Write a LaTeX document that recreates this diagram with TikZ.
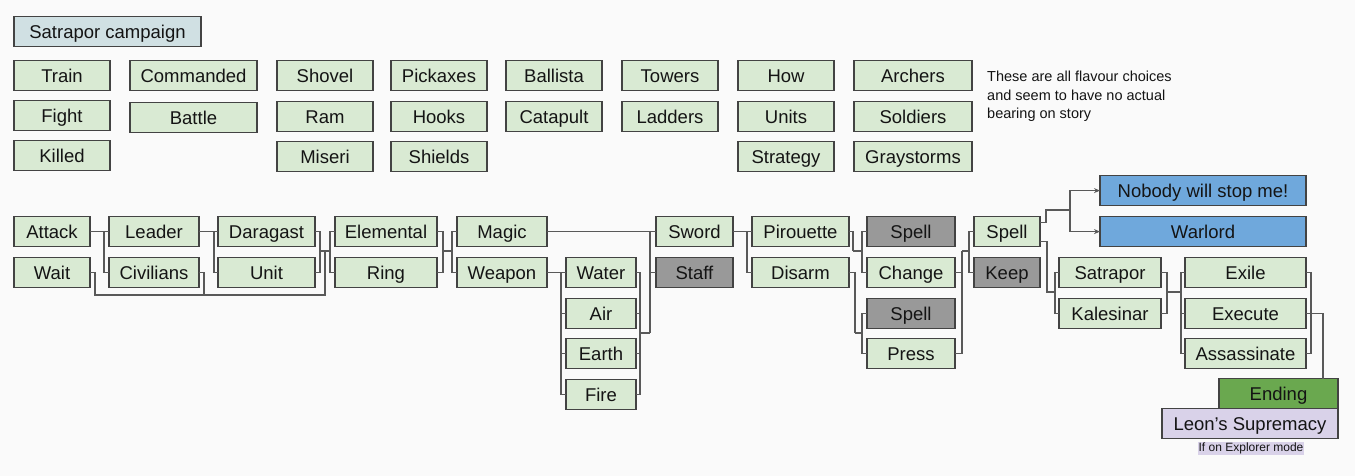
\documentclass[tikz,border=0pt]{standalone}
\usepackage{fontspec}
\setmainfont{Liberation Sans}
\usetikzlibrary{arrows.meta}
\definecolor{bgc}{HTML}{FAFAFA}
\definecolor{gfill}{HTML}{D9EAD3}
\definecolor{grayfill}{HTML}{999999}
\definecolor{bluefill}{HTML}{6FA8DC}
\definecolor{endfill}{HTML}{6AA84F}
\definecolor{purpfill}{HTML}{D9D2E9}
\definecolor{titlefill}{HTML}{D0E0E3}
\definecolor{bordc}{HTML}{434343}
\definecolor{linec}{HTML}{595959}
\definecolor{txt}{HTML}{141414}
\tikzset{
  box/.style={draw=bordc, line width=1.1pt, fill=gfill, inner sep=0pt, outer sep=0pt,
    font=\fontsize{18.5}{22}\selectfont, text=txt, text height=13.2pt, text depth=0pt},
  greybox/.style={box, fill=grayfill},
  bluebox/.style={box, fill=bluefill},
  endbox/.style={box, fill=endfill},
  purpbox/.style={box, fill=purpfill},
  titlebox/.style={box, fill=titlefill},
  conn/.style={draw=linec, line width=1.2pt},
  arr/.style={conn, -{Stealth[length=6pt,width=5pt]}}
}
\newcommand\bx[7]{\node[#1, minimum width={#5pt-#3pt}, minimum height={#6pt-#4pt}] (#2) at ({(#3+#5)/2},{(#4+#6)/2+0.6}) {#7};}
\begin{document}
\begin{tikzpicture}[x=1pt,y=-1pt]
\fill[bgc] (0,0) rectangle (1355,476);
\useasboundingbox (0,0) rectangle (1355,476);

% top flavour block
\bx{titlebox}{title}{14}{16}{201}{46}{Satrapor campaign}
\bx{box}{train}{14}{60}{110}{90}{Train}
\bx{box}{fight}{14}{100}{110}{130}{Fight}
\bx{box}{killed}{14}{140}{110}{170}{Killed}
\bx{box}{commanded}{130}{60}{257}{90}{Commanded}
\bx{box}{battle}{130}{102}{257}{132}{Battle}
\bx{box}{shovel}{277}{60}{373}{90}{Shovel}
\bx{box}{ram}{277}{101}{373}{131}{Ram}
\bx{box}{miseri}{277}{141}{373}{171}{Miseri}
\bx{box}{pickaxes}{391}{60}{487}{90}{Pickaxes}
\bx{box}{hooks}{391}{101}{487}{131}{Hooks}
\bx{box}{shields}{391}{141}{487}{171}{Shields}
\bx{box}{ballista}{506}{60}{602}{90}{Ballista}
\bx{box}{catapult}{506}{101}{602}{131}{Catapult}
\bx{box}{towers}{622}{60}{718}{90}{Towers}
\bx{box}{ladders}{622}{101}{718}{131}{Ladders}
\bx{box}{how}{738}{60}{834}{90}{How}
\bx{box}{units}{738}{101}{834}{131}{Units}
\bx{box}{strategy}{738}{141}{834}{171}{Strategy}
\bx{box}{archers}{854}{60}{972}{90}{Archers}
\bx{box}{soldiers}{854}{101}{972}{131}{Soldiers}
\bx{box}{graystorms}{854}{141}{972}{171}{Graystorms}
\node[anchor=north west, inner sep=0pt, align=left, text=txt,
  font=\fontsize{14.5}{18.5}\selectfont] (note) at (987,71)
  {These are all flavour choices\\and seem to have no actual\\bearing on story};

% main story
\bx{box}{attack}{14}{216}{90}{246}{Attack}
\bx{box}{wait}{14}{257}{90}{287}{Wait}
\bx{box}{leader}{109}{216}{199}{246}{Leader}
\bx{box}{civilians}{109}{257}{199}{287}{Civilians}
\bx{box}{daragast}{218}{216}{315}{246}{Daragast}
\bx{box}{unit}{218}{257}{315}{287}{Unit}
\bx{box}{elemental}{335}{216}{437}{246}{Elemental}
\bx{box}{ring}{335}{257}{437}{287}{Ring}
\bx{box}{magic}{457}{216}{547}{246}{Magic}
\bx{box}{weapon}{457}{257}{547}{287}{Weapon}
\bx{box}{water}{566}{257}{636}{287}{Water}
\bx{box}{air}{566}{298}{636}{328}{Air}
\bx{box}{earth}{566}{338}{636}{368}{Earth}
\bx{box}{fire}{566}{379}{636}{409}{Fire}
\bx{box}{sword}{656}{216}{733}{246}{Sword}
\bx{greybox}{staff}{656}{257}{733}{287}{Staff}
\bx{box}{pirouette}{752}{216}{849}{246}{Pirouette}
\bx{box}{disarm}{752}{257}{849}{287}{Disarm}
\bx{greybox}{spellA}{867}{216}{955}{246}{Spell}
\bx{box}{change}{867}{257}{955}{287}{Change}
\bx{greybox}{spellB}{867}{298}{955}{328}{Spell}
\bx{box}{press}{867}{338}{955}{368}{Press}
\bx{box}{spellC}{974}{216}{1040}{246}{Spell}
\bx{greybox}{keep}{974}{257}{1040}{287}{Keep}
\bx{bluebox}{nobody}{1100}{175}{1306}{205}{Nobody will stop me!}
\bx{bluebox}{warlord}{1100}{216}{1306}{246}{Warlord}
\bx{box}{satrapor}{1059}{257}{1161}{287}{Satrapor}
\bx{box}{kalesinar}{1059}{298}{1161}{328}{Kalesinar}
\bx{box}{exile}{1185}{257}{1306}{287}{Exile}
\bx{box}{execute}{1185}{298}{1306}{328}{Execute}
\bx{box}{assassinate}{1185}{338}{1306}{368}{Assassinate}
\bx{endbox}{ending}{1219}{378}{1338}{408}{Ending}
\bx{purpbox}{leon}{1162}{408}{1338}{438}{Leon’s Supremacy}
\node[fill=purpfill, inner sep=0.8pt, text=txt, font=\fontsize{12}{14}\selectfont,
  text height=9.3pt, text depth=2.6pt] (explorer) at (1251,448.5) {If on Explorer mode};

% junction coordinates
\coordinate (j3) at (325,251);
\coordinate (b3) at (325,295);
\coordinate (j4) at (443,251);
\coordinate (j6) at (650,333);
\coordinate (j8a) at (853,251);
\coordinate (j8b) at (855,333);
\coordinate (j9) at (962,251);
\coordinate (j10) at (1070,210);
\coordinate (j10b) at (1055,292);
\coordinate (j11) at (1167,292);
\coordinate (j12) at (1311,313);

% connectors
\draw[conn] (attack.east) -- (leader.west);
\draw[conn] (attack.east) -- ++(14,0) |- (civilians.west);
\draw[conn] (leader.east) -- (daragast.west);
\draw[conn] (leader.east) -- ++(15,0) |- (unit.west);

\draw[conn] (daragast.east) -- ++(5,0) |- (j3);
\draw[conn] (unit.east) -- ++(5,0) |- (j3);
\draw[conn] (j3) -- ++(5,0) |- (elemental.west);
\draw[conn] (j3) -- ++(5,0) |- (ring.west);
\draw[conn] (wait.east) -- ++(5,0) |- (b3) -- (j3);
\draw[conn] (civilians.east) -- ++(5,0) |- (b3);

\draw[conn] (elemental.east) -- ++(6,0) |- (j4);
\draw[conn] (ring.east) -- ++(6,0) |- (j4);
\draw[conn] (j4) -- ++(9,0) |- (magic.west);
\draw[conn] (j4) -- ++(9,0) |- (weapon.west);

\draw[conn] (weapon.east) -- (water.west);
\draw[conn] (weapon.east) -- ++(14,0) |- (air.west);
\draw[conn] (weapon.east) -- ++(14,0) |- (earth.west);
\draw[conn] (weapon.east) -- ++(14,0) |- (fire.west);

\draw[conn] (water.east) -- ++(4,0) |- (j6);
\draw[conn] (air.east) -- ++(4,0) |- (j6);
\draw[conn] (earth.east) -- ++(4,0) |- (j6);
\draw[conn] (fire.east) -- ++(4,0) |- (j6);
\draw[conn] (j6) |- (sword.west);
\draw[conn] (j6) |- (staff.west);
\draw[conn] (magic.east) -- (sword.west);

\draw[conn] (sword.east) -- (pirouette.west);
\draw[conn] (sword.east) -- ++(14,0) |- (disarm.west);

\draw[conn] (pirouette.east) -- ++(4,0) |- (j8a);
\draw[conn] (j8a) -- ++(9,0) |- (spellA.west);
\draw[conn] (j8a) -- ++(9,0) |- (change.west);
\draw[conn] (disarm.east) -- ++(6,0) |- (j8b);
\draw[conn] (j8b) -- ++(7,0) |- (spellB.west);
\draw[conn] (j8b) -- ++(7,0) |- (press.west);

\draw[conn] (change.east) -- ++(7,0) |- (j9);
\draw[conn] (press.east) -- ++(7,0) |- (j9);
\draw[conn] (j9) -- ++(7,0) |- (spellC.west);
\draw[conn] (j9) -- ++(7,0) |- (keep.west);

\draw[conn] ([yshift=9pt]spellC.east) -- ++(6,0) |- (j10);
\draw[arr] (j10) |- (nobody.west);
\draw[arr] (j10) |- (warlord.west);
\draw[conn] ([yshift=-10pt]spellC.east) -- ++(7,0) |- (j10b);
\draw[conn] (j10b) |- (satrapor.west);
\draw[conn] (j10b) |- (kalesinar.west);

\draw[conn] (satrapor.east) -- ++(6,0) |- (j11);
\draw[conn] (kalesinar.east) -- ++(6,0) |- (j11);
\draw[conn] (j11) -- ++(14,0) |- (exile.west);
\draw[conn] (j11) -- ++(14,0) |- (execute.west);
\draw[conn] (j11) -- ++(14,0) |- (assassinate.west);

\draw[conn] (exile.east) -- ++(5,0) |- (j12);
\draw[conn] (assassinate.east) -- ++(5,0) |- (j12);
\draw[conn] (execute.east) -| ([xshift=44.5pt]ending.north);
\end{tikzpicture}
\end{document}
